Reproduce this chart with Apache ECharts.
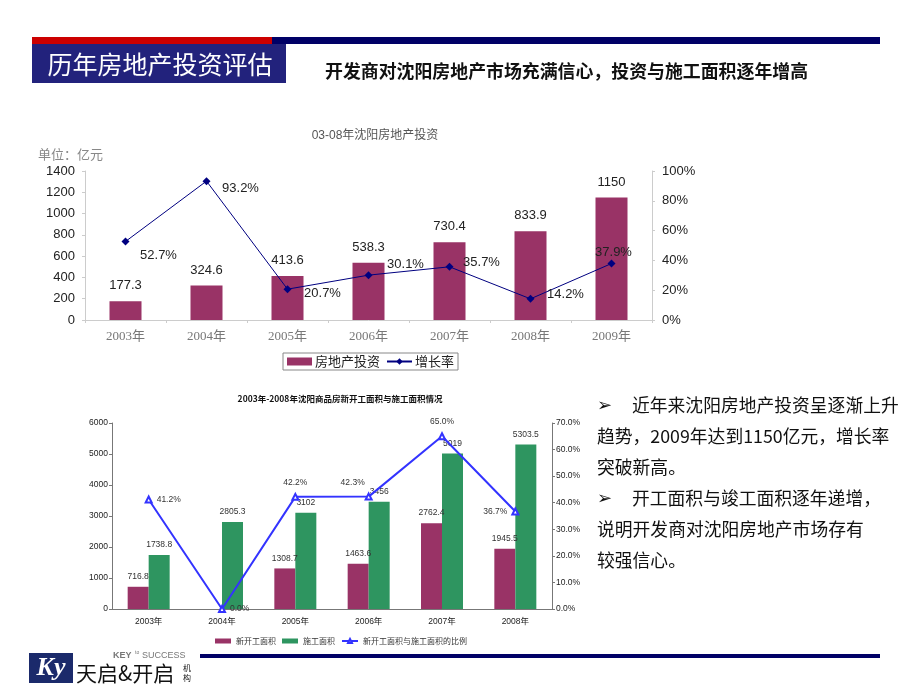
<!DOCTYPE html>
<html>
<head>
<meta charset="utf-8">
<script src="https://cdn.jsdelivr.net/npm/echarts@6/dist/echarts.min.js"></script>
<style>
html,body{margin:0;padding:0;background:#fff;}
#main{width:920px;height:690px;}
</style>
</head>
<body>
<div id="main"></div>
<script>
// ---- data ----
const investYears = ['2003年', '2004年', '2005年', '2006年', '2007年', '2008年', '2009年'];
const investValues = [177.3, 324.6, 413.6, 538.3, 730.4, 833.9, 1150];
const growthRate = [52.7, 93.2, 20.7, 30.1, 35.7, 14.2, 37.9];

const areaYears = ['2003年', '2004年', '2005年', '2006年', '2007年', '2008年'];
const newStartArea = [716.8, null, 1308.7, 1463.6, 2762.4, 1945.5];
const constructionArea = [1738.8, 2805.3, 3102, 3456, 5019, 5303.5];
const newToConstructionRatio = [41.2, 0.0, 42.2, 42.3, 65.0, 36.7];

const bulletLines = [
  '➢ 近年来沈阳房地产投资呈逐渐上升',
  '趋势，2009年达到1150亿元，增长率',
  '突破新高。',
  '➢ 开工面积与竣工面积逐年递增，',
  '说明开发商对沈阳房地产市场存有',
  '较强信心。'
];

// label placement (style only)
const growthLabelOffsets = [[33, 14], [34, 7], [35, 4], [37, -11], [32, -4], [35, -4], [2, -11]];
const ratioLabelPos = ['right', 'right', 'top', 'top', 'top', 'left'];
const ratioLabelOffsets = [[0, 0], [0, 0], [0, -2], [-16, -2], [0, -2], [0, 0]];

const SANS = '"Liberation Sans", Arial, "Noto Sans CJK SC", sans-serif';
const CJK = '"Noto Sans CJK SC", sans-serif';
const SERIF = '"Liberation Serif", "Noto Sans CJK SC", serif';

const chart = echarts.init(document.getElementById('main'), null, {renderer: 'canvas'});

const textGraphics = bulletLines.map((t, i) => {
  const isBullet = t.startsWith('➢');
  if (isBullet) {
    return {
      type: 'group', children: [
        {type: 'text', left: 597, top: 397 + i * 31, style: {text: '➢', fontSize: 18, fontWeight: 'bold', fill: '#111', fontFamily: '"DejaVu Sans"'}},
        {type: 'text', left: 632, top: 396 + i * 31, style: {text: t.slice(2), fontSize: 17.8, fill: '#111', fontFamily: CJK}}
      ]
    };
  }
  return {type: 'text', left: 597, top: 396 + i * 31, style: {text: t, fontSize: 17.8, fill: '#111', fontFamily: CJK}};
});

const plain = v => String(v);

const option = {
  backgroundColor: '#fff',
  animation: false,
  title: [
    {text: '03-08年沈阳房地产投资', left: 370, top: 125, textAlign: 'center',
      textStyle: {fontSize: 12, fontWeight: 'normal', color: '#555', fontFamily: SANS}},
    {text: '2003年-2008年沈阳商品房新开工面积与施工面积情况', left: 335, top: 390, textAlign: 'center',
      textStyle: {fontSize: 8.5, fontWeight: 'bold', color: '#111', fontFamily: CJK}}
  ],
  legend: [
    {
      data: [
        {name: '房地产投资', icon: 'rect'},
        {name: '增长率'}
      ],
      left: 283, top: 353, orient: 'horizontal',
      borderColor: '#888', borderWidth: 1, padding: [2, 4, 2, 4],
      itemWidth: 25, itemHeight: 8, itemGap: 6,
      textStyle: {fontSize: 13, color: '#222', fontFamily: CJK, padding: [0, 0, 0, -2]}
    },
    {
      data: [
        {name: '新开工面积', icon: 'rect'},
        {name: '施工面积', icon: 'rect'},
        {name: '新开工面积与施工面积的比例'}
      ],
      left: 210, top: 632, itemWidth: 16, itemHeight: 5, itemGap: 6,
      textStyle: {fontSize: 8, color: '#333', fontFamily: CJK}
    }
  ],
  grid: [
    {left: 85, width: 567, top: 171, height: 149},
    {left: 112, width: 440, top: 423, height: 186}
  ],
  xAxis: [
    {
      type: 'category', gridIndex: 0, data: investYears,
      axisLine: {lineStyle: {color: '#cccccc'}},
      axisTick: {show: true, alignWithLabel: false, length: 3, lineStyle: {color: '#cccccc'}},
      axisLabel: {fontSize: 13, color: '#777', fontFamily: SERIF, margin: 10}
    },
    {
      type: 'category', gridIndex: 1, data: areaYears,
      axisLine: {lineStyle: {color: '#777'}},
      axisTick: {show: false},
      axisLabel: {fontSize: 8.5, color: '#222', fontFamily: SANS, margin: 8}
    }
  ],
  yAxis: [
    {
      type: 'value', gridIndex: 0, min: 0, max: 1400, interval: 200, position: 'left',
      axisLine: {show: true, lineStyle: {color: '#cccccc'}},
      axisTick: {show: true, length: 3, lineStyle: {color: '#cccccc'}},
      splitLine: {show: false},
      axisLabel: {fontSize: 13, color: '#222', fontFamily: SANS, margin: 10, formatter: plain}
    },
    {
      type: 'value', gridIndex: 0, min: 0, max: 100, interval: 20, position: 'right',
      axisLine: {show: true, lineStyle: {color: '#cccccc'}},
      axisTick: {show: true, length: 3, lineStyle: {color: '#cccccc'}},
      splitLine: {show: false},
      axisLabel: {fontSize: 13, color: '#222', fontFamily: SANS, margin: 10, formatter: '{value}%'}
    },
    {
      type: 'value', gridIndex: 1, min: 0, max: 6000, interval: 1000, position: 'left',
      axisLine: {show: true, lineStyle: {color: '#777'}},
      axisTick: {show: true, length: 3, lineStyle: {color: '#777'}},
      splitLine: {show: false},
      axisLabel: {fontSize: 8.5, color: '#222', fontFamily: SANS, margin: 4, formatter: plain}
    },
    {
      type: 'value', gridIndex: 1, min: 0, max: 70, interval: 10, position: 'right',
      axisLine: {show: true, lineStyle: {color: '#777'}},
      axisTick: {show: true, length: 3, lineStyle: {color: '#777'}},
      splitLine: {show: false},
      axisLabel: {fontSize: 8.5, color: '#222', fontFamily: SANS, margin: 4,
        formatter: v => v.toFixed(1) + '%'}
    }
  ],
  series: [
    {
      name: '房地产投资', type: 'bar', xAxisIndex: 0, yAxisIndex: 0,
      data: investValues, barWidth: 32,
      itemStyle: {color: '#993366'},
      label: {show: true, position: 'top', distance: 9, fontSize: 13, color: '#222', fontFamily: SANS}
    },
    {
      name: '增长率', type: 'line', xAxisIndex: 0, yAxisIndex: 1,
      data: growthRate.map((v, i) => ({
        value: v,
        label: {offset: growthLabelOffsets[i]}
      })),
      symbol: 'diamond', symbolSize: 8,
      lineStyle: {color: '#000080', width: 1},
      itemStyle: {color: '#000080'},
      label: {show: true, position: 'inside', fontSize: 13, color: '#222', fontFamily: SANS,
        formatter: p => p.value.toFixed(1) + '%'},
      z: 5
    },
    {
      name: '新开工面积', type: 'bar', xAxisIndex: 1, yAxisIndex: 2,
      data: newStartArea, barWidth: 21, barGap: '0%',
      itemStyle: {color: '#993366'},
      label: {show: true, position: 'top', distance: 6, fontSize: 8.5, color: '#333', fontFamily: SANS}
    },
    {
      name: '施工面积', type: 'bar', xAxisIndex: 1, yAxisIndex: 2,
      data: constructionArea, barWidth: 21, barGap: '0%',
      itemStyle: {color: '#2E9560'},
      label: {show: true, position: 'top', distance: 6, fontSize: 8.5, color: '#333', fontFamily: SANS}
    },
    {
      name: '新开工面积与施工面积的比例', type: 'line', xAxisIndex: 1, yAxisIndex: 3,
      data: newToConstructionRatio.map((v, i) => ({
        value: v,
        label: {position: ratioLabelPos[i], offset: ratioLabelOffsets[i]}
      })),
      symbol: 'emptyTriangle', symbolSize: 6,
      lineStyle: {color: '#3333FF', width: 2},
      itemStyle: {color: '#3333FF', borderColor: '#3333FF'},
      label: {show: true, fontSize: 8.5, color: '#333', fontFamily: SANS, distance: 4,
        formatter: p => p.value.toFixed(1) + '%'},
      z: 5
    }
  ],
  graphic: [
    {type: 'rect', shape: {x: 32, y: 37, width: 240, height: 7}, style: {fill: '#CC0000'}},
    {type: 'rect', shape: {x: 272, y: 37, width: 608, height: 7}, style: {fill: '#000066'}},
    {type: 'rect', shape: {x: 32, y: 44, width: 254, height: 39}, style: {fill: '#22227C'}},
    {type: 'text', x: 160, y: 64, style: {text: '历年房地产投资评估', fontSize: 25, fill: '#fff', fontFamily: CJK,
      textAlign: 'center', textVerticalAlign: 'middle'}},
    {type: 'text', x: 325, y: 71, style: {text: '开发商对沈阳房地产市场充满信心，投资与施工面积逐年增高', fontSize: 17.9,
      fontWeight: 'bold', fill: '#111', fontFamily: CJK, textVerticalAlign: 'middle'}},
    {type: 'text', x: 38, y: 154, style: {text: '单位：亿元', fontSize: 13, fill: '#888', fontFamily: CJK,
      textVerticalAlign: 'middle'}},
    ...textGraphics,
    // footer
    {type: 'rect', shape: {x: 200, y: 654, width: 680, height: 4}, style: {fill: '#000066'}},
    {type: 'rect', shape: {x: 29, y: 653, width: 44, height: 30}, style: {fill: '#1B2A6B'}},
    {type: 'text', x: 51, y: 668, style: {text: 'Ky', fontSize: 26, fontWeight: 'bold', fontStyle: 'italic',
      fill: '#fff', fontFamily: '"Liberation Serif", serif', textAlign: 'center', textVerticalAlign: 'middle'}},
    {type: 'text', x: 113, y: 656, style: {text: 'KEY', fontSize: 9, fontWeight: 'bold', fill: '#777',
      fontFamily: SANS, textVerticalAlign: 'middle'}},
    {type: 'text', x: 135, y: 653, style: {text: 'to', fontSize: 5, fill: '#777',
      fontFamily: SANS, textVerticalAlign: 'middle'}},
    {type: 'text', x: 142, y: 656, style: {text: 'SUCCESS', fontSize: 9, fill: '#777',
      fontFamily: SANS, textVerticalAlign: 'middle'}},
    {type: 'text', x: 76, y: 673, style: {text: '天启&开启', fontSize: 21, fill: '#111',
      fontFamily: CJK, textVerticalAlign: 'middle'}},
    {type: 'text', x: 183, y: 668, style: {text: '机', fontSize: 8, fill: '#111',
      fontFamily: CJK, textVerticalAlign: 'middle'}},
    {type: 'text', x: 183, y: 678, style: {text: '构', fontSize: 8, fill: '#111',
      fontFamily: CJK, textVerticalAlign: 'middle'}}
  ]
};
chart.setOption(option);
</script>
</body>
</html>
